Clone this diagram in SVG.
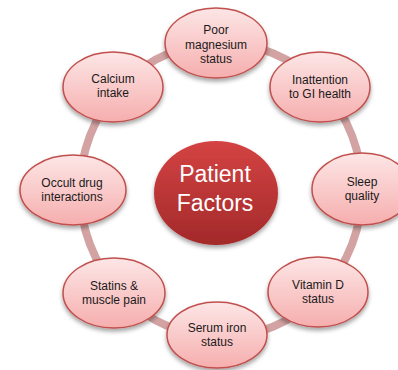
<svg xmlns="http://www.w3.org/2000/svg" width="398" height="370" viewBox="0 0 398 370">
  <defs>
    <linearGradient id="nodeFill" x1="0" y1="0" x2="0" y2="1">
      <stop offset="0" stop-color="#fde6e6"/>
      <stop offset="1" stop-color="#f6aeae"/>
    </linearGradient>
    <linearGradient id="hubFill" x1="0" y1="0" x2="0" y2="1">
      <stop offset="0" stop-color="#d44343"/>
      <stop offset="1" stop-color="#a3292a"/>
    </linearGradient>
    <filter id="shadow" x="-30%" y="-30%" width="160%" height="170%">
      <feDropShadow dx="0" dy="3" stdDeviation="2.2" flood-color="#000" flood-opacity="0.35"/>
    </filter>
  </defs>
  <style>
    .node ellipse { fill: url(#nodeFill); stroke: #c0504d; stroke-width: 1.5; filter: url(#shadow); }
    .node text { font-family: "Liberation Sans", Arial, sans-serif; font-size: 12px; fill: #1a1a1a; text-anchor: middle; }
    .hub ellipse { fill: url(#hubFill); filter: url(#shadow); }
    .hub text { font-family: "Liberation Sans", Arial, sans-serif; font-size: 23px; fill: #ffffff; text-anchor: middle; }
    .ring { fill: none; stroke: #d3a3a3; stroke-width: 8; }
  </style>
  <rect width="398" height="370" fill="#ffffff"/>

  <!-- cycle ring linking the factors -->
  <g id="connectors">
    <ellipse class="ring" cx="221" cy="190" rx="141" ry="147"/>
  </g>

  <g id="hub" class="hub">
    <ellipse cx="216" cy="193" rx="62" ry="52"/>
    <text x="215" y="182">Patient</text>
    <text x="215" y="211">Factors</text>
  </g>

  <g id="magnesium" class="node">
    <ellipse cx="216" cy="43" rx="51" ry="35"/>
    <text x="216" y="34">Poor</text>
    <text x="216" y="48.5">magnesium</text>
    <text x="216" y="63">status</text>
  </g>

  <g id="gi-health" class="node">
    <ellipse cx="320" cy="87" rx="50" ry="35"/>
    <text x="320" y="84">Inattention</text>
    <text x="320" y="98">to GI health</text>
  </g>

  <g id="sleep" class="node">
    <ellipse cx="362" cy="189" rx="50" ry="36"/>
    <text x="362" y="186">Sleep</text>
    <text x="362" y="200">quality</text>
  </g>

  <g id="vitamin-d" class="node">
    <ellipse cx="318" cy="292" rx="50" ry="35"/>
    <text x="318" y="289">Vitamin D</text>
    <text x="318" y="303">status</text>
  </g>

  <g id="serum-iron" class="node">
    <ellipse cx="217" cy="335" rx="50" ry="33"/>
    <text x="217" y="332">Serum iron</text>
    <text x="217" y="346">status</text>
  </g>

  <g id="statins" class="node">
    <ellipse cx="114" cy="293" rx="51" ry="35"/>
    <text x="114" y="290">Statins &amp;</text>
    <text x="114" y="304">muscle pain</text>
  </g>

  <g id="drug-interactions" class="node">
    <ellipse cx="73" cy="190" rx="53" ry="35"/>
    <text x="72" y="187">Occult drug</text>
    <text x="72" y="201">interactions</text>
  </g>

  <g id="calcium" class="node">
    <ellipse cx="113" cy="87" rx="50" ry="35"/>
    <text x="113" y="83">Calcium</text>
    <text x="113" y="97">intake</text>
  </g>
</svg>
